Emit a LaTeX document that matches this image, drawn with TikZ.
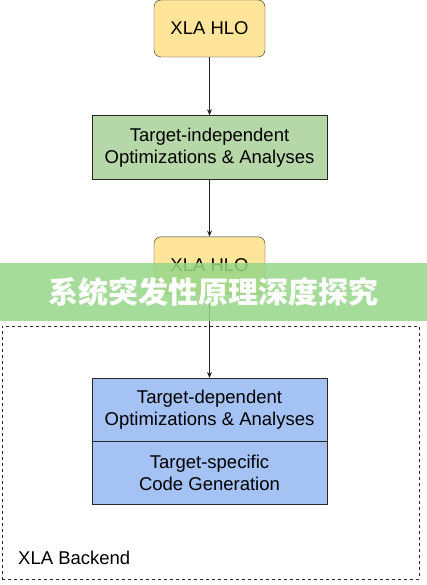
\documentclass[tikz,border=0pt]{standalone}
\usepackage{fontspec}
\setmainfont{Liberation Sans}
\newfontfamily\cjk{Noto Sans CJK SC}
\usetikzlibrary{positioning,arrows.meta}
\definecolor{HloYellow}{RGB}{255,229,153}
\definecolor{IndepGreen}{RGB}{182,215,168}
\definecolor{DepBlue}{RGB}{164,194,244}
\definecolor{BannerGreen}{RGB}{150,214,135}
\definecolor{EdgeGray}{RGB}{40,40,40}
\tikzset{
  hlobox/.style={
    draw=EdgeGray,
    fill=HloYellow,
    rounded corners=7pt,
    minimum width=111pt,
    minimum height=57pt,
    font=\fontsize{18.5}{22}\selectfont
  },
  optbox/.style={
    draw=EdgeGray,
    fill=IndepGreen,
    minimum width=235pt,
    minimum height=64pt,
    align=center,
    font=\fontsize{18.5}{22}\selectfont
  },
  backbox/.style={
    draw=EdgeGray,
    fill=DepBlue,
    minimum width=235pt,
    minimum height=63pt,
    align=center,
    font=\fontsize{18.5}{22}\selectfont
  },
  frame/.style={
    draw=black!85,
    dashed,
    minimum width=417pt,
    minimum height=253pt
  },
  arrow/.style={-{Stealth[length=6pt,width=5pt]},line width=0.8pt,draw=black!85}
}
\begin{document}
\begin{tikzpicture}[x=1pt,y=-1pt,node distance=58pt]
    \useasboundingbox (0,0) rectangle (427,585);
    \node[frame] (backend) at (210.5,452.5) {};
    \node[anchor=base west,inner sep=0pt,font=\fontsize{18.5}{22}\selectfont] (backendlbl) at (18,564) {XLA Backend};
    \node[hlobox] (hlo) at (209.5,28.5) {XLA HLO};
    \node[optbox,below=of hlo] (indep) {Target-independent\\Optimizations \& Analyses};
    \node[hlobox,below=57pt of indep] (hlo2) {XLA HLO};
    \node[backbox,below=84pt of hlo2] (dep) {Target-dependent\\Optimizations \& Analyses};
    \node[backbox,below=0pt of dep] (gen) {Target-specific\\Code Generation};
    \draw[arrow] (hlo) -- (indep);
    \draw[arrow] (indep) -- (hlo2);
    \draw[arrow] (hlo2) -- (dep);
    % banner over the picture
    \node[fill=BannerGreen,fill opacity=0.85,text opacity=1,text=white,
      minimum width=427pt,minimum height=58pt,
      font=\cjk\bfseries\fontsize{30}{30}\selectfont] (banner) at (213.5,292) {系统突发性原理深度探究};
  \end{tikzpicture}
\end{document}
